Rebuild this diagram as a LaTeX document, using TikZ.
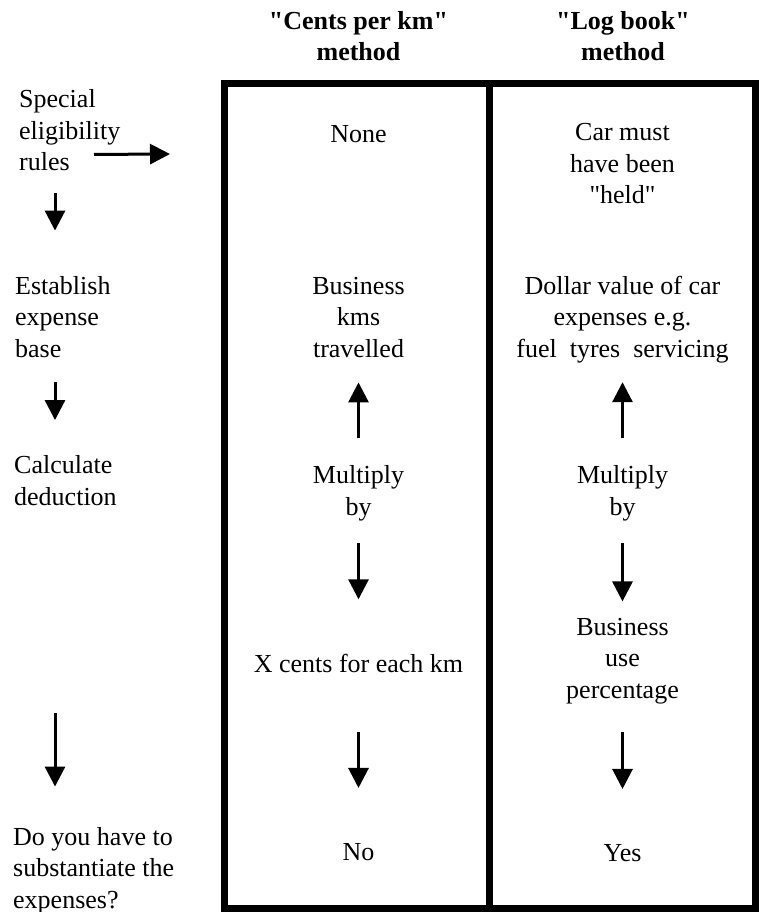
\documentclass[tikz,border=0pt]{standalone}
\usepackage{fontspec}
\setmainfont{Liberation Serif}[Ligatures=TeXOff]
\usetikzlibrary{arrows.meta}
\tikzset{
  txt/.style={inner sep=0pt, anchor=base, align=center, font=\fontsize{26}{31.5}\selectfont},
  lefttxt/.style={txt, anchor=base west, align=left},
  ttl/.style={txt, font=\fontsize{26}{31.5}\selectfont\bfseries},
  arr/.style={-{Triangle[width=20pt,length=20pt]}, line width=3pt}
}
\begin{document}
\begin{tikzpicture}[x=1pt,y=-1pt]
\useasboundingbox (0,0) rectangle (758,912);
% frame of the two methods
\draw[line width=7pt] (224,83.5) rectangle (755,908.5);
\draw[line width=7pt] (489.5,83.5) -- (489.5,908.5);
\node[ttl] (cpk) at (358.5,61) {"Cents per km"\\method};
\node[ttl] (lb) at (623,61) {"Log book"\\method};
% left column
\node[lefttxt] (rules) at (19,171) {Special\\eligibility\\rules};
\node[lefttxt] (est) at (15,357) {Establish\\expense\\base};
\node[lefttxt] (calc) at (14,505) {Calculate\\deduction};
\node[lefttxt] (quest) at (13,908) {Do you have to\\substantiate the\\expenses?};
\coordinate (lx) at (55,0);
\coordinate (boxin) at (170,154);
\draw[arr] ([shift={(75,-17)}]rules.south west) -- (boxin);
\draw[arr, shorten <=22pt, shorten >=45.2pt] (rules.south -| lx) -- (est.north -| lx);
\draw[arr, shorten <=25pt, shorten >=35.2pt] (est.south -| lx) -- (calc.north -| lx);
\draw[arr, shorten <=208pt, shorten >=40.2pt] (calc.south -| lx) -- (quest.north -| lx);
% cents per km
\node[txt] (none) at (358.5,143) {None};
\node[txt] (bkms) at (358.5,357) {Business\\kms\\travelled};
\node[txt] (mul1) at (358.5,515) {Multiply\\by};
\node[txt] (xc) at (358.5,672) {X cents for each km};
\node[txt] (no) at (358.5,860) {No};
\draw[arr, shorten <=27.2pt, shorten >=25pt] (mul1) -- (bkms);
\draw[arr, shorten <=22.4pt, shorten >=54.2pt] (mul1) -- (xc);
\draw[arr, shorten <=60pt, shorten >=54.8pt] (xc) -- (no);
% log book
\node[txt] (held) at (622.5,204) {Car must\\have been\\"held"};
\node[txt] (dol) at (622.5,357) {Dollar value of car\\expenses e.g.\\fuel\ \ tyres\ \ servicing};
\node[txt] (mul2) at (622.5,515) {Multiply\\by};
\node[txt] (buse) at (622.5,698) {Business\\use\\percentage};
\node[txt] (yes) at (622.5,861) {Yes};
\draw[arr, shorten <=27.2pt, shorten >=19.4pt] (mul2) -- (dol);
\draw[arr, shorten <=22.4pt, shorten >=16.2pt] (mul2) -- (buse);
\draw[arr, shorten <=28.4pt, shorten >=54.8pt] (buse) -- (yes);
\end{tikzpicture}
\end{document}
